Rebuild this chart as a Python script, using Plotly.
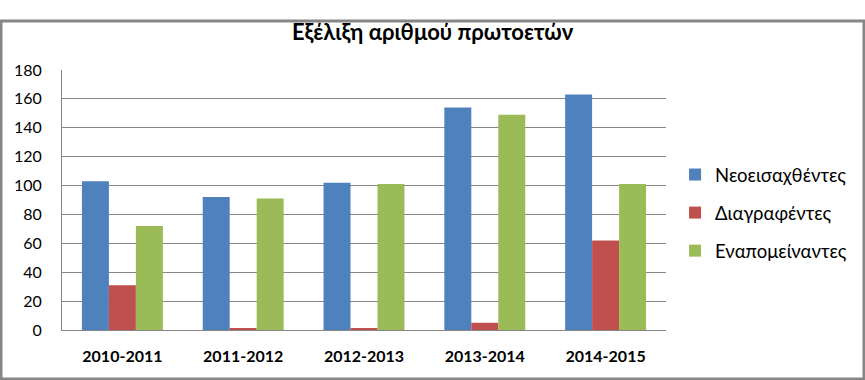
import plotly.graph_objects as go

categories = ["2010-2011", "2011-2012", "2012-2013", "2013-2014", "2014-2015"]
neoeisaxthentes = [103, 92, 102, 154, 163]
diagrafentes = [31, 1, 1, 5, 62]
enapomeinantes = [72, 91, 101, 149, 101]
series_names = ["Νεοεισαχθέντες", "Διαγραφέντες", "Εναπομείναντες"]
colors = ["#4F81BD", "#C0504D", "#9BBB59"]
y_ticks = [0, 20, 40, 60, 80, 100, 120, 140, 160, 180]

FONT = "Lato, 'Noto Sans', sans-serif"

fig = go.Figure()
for name, vals, col in zip(series_names, [neoeisaxthentes, diagrafentes, enapomeinantes], colors):
    fig.add_trace(go.Bar(x=categories, y=vals, name=name, marker_color=col,
                         marker_line_width=0, legendgroup=name))

fig.update_layout(
    width=865, height=380,
    margin=dict(l=62, r=199, t=70, b=50, autoexpand=False),
    paper_bgcolor="white", plot_bgcolor="white",
    barmode="group", bargap=0.33, bargroupgap=0,
    title=dict(text="<b>Εξέλιξη αριθμού πρωτοετών</b>", x=0.5, xanchor="center",
               xref="container", y=1 - 32/380, yref="container", yanchor="middle",
               font=dict(family=FONT, size=22, color="black")),
    font=dict(family=FONT, size=14, color="black"),
    legend=dict(x=1.015, xanchor="left", y=0.45, yanchor="middle",
                font=dict(family=FONT, size=18.5, color="black"),
                traceorder="grouped", tracegroupgap=11,
                itemwidth=30, bgcolor="rgba(0,0,0,0)"),
    showlegend=True,
)
fig.update_xaxes(showline=True, linecolor="#868686", linewidth=1,
                 showgrid=False, ticks="", ticklabelstandoff=12,
                 tickfont=dict(family=FONT, size=16, color="black"),
                 tickprefix="<b>", ticksuffix="</b>")
fig.update_yaxes(range=[0, 180], tickvals=y_ticks, showline=True, linecolor="#868686",
                 linewidth=1, showgrid=True, gridcolor="#868686", gridwidth=1,
                 ticks="", ticklabelstandoff=16,
                 tickfont=dict(family=FONT, size=16, color="black"), zeroline=False)

fig.add_shape(type="rect", xref="x domain", yref="y domain",
              x0=-61/604, x1=(865-63)/604, y0=-49/260, y1=(380-71)/260,
              line=dict(color="#868686", width=3), layer="above")

fig.write_html("out.html", config={"displayModeBar": False},
               post_script="document.body.style.margin='0px';")
